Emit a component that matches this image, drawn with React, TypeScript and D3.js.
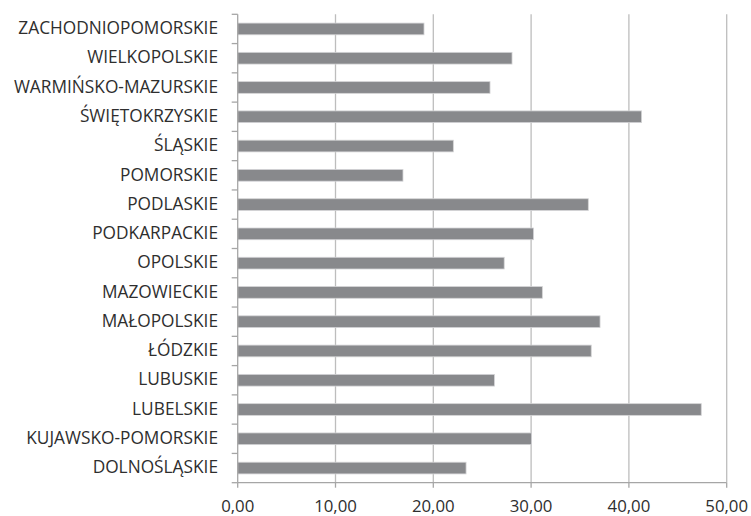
import React from "react";
import * as d3 from "d3";

const categories = [
  "ZACHODNIOPOMORSKIE",
  "WIELKOPOLSKIE",
  "WARMIŃSKO-MAZURSKIE",
  "ŚWIĘTOKRZYSKIE",
  "ŚLĄSKIE",
  "POMORSKIE",
  "PODLASKIE",
  "PODKARPACKIE",
  "OPOLSKIE",
  "MAZOWIECKIE",
  "MAŁOPOLSKIE",
  "ŁÓDZKIE",
  "LUBUSKIE",
  "LUBELSKIE",
  "KUJAWSKO-POMORSKIE",
  "DOLNOŚLĄSKIE",
];

const values = [
  19.05, 28.05, 25.8, 41.3, 22.05, 16.9, 35.85, 30.25, 27.25, 31.15, 37.05, 36.15,
  26.25, 47.4, 30.05, 23.35,
];

const xTicks = [0, 10, 20, 30, 40, 50];

const W = 751;
const H = 516;
const left = 237.7;
const right = 726.7;
const top = 14.3;
const bottom = 482.7;

export default function App() {
  const x = d3.scaleLinear().domain([0, 50]).range([left, right]);
  const y = d3
    .scaleBand<string>()
    .domain(categories)
    .range([top, bottom])
    .paddingInner(0.6)
    .paddingOuter(0.3);
  const band = (bottom - top) / categories.length;
  const fmt = (v: number) => v.toFixed(2).replace(".", ",");
  const font = "'Open Sans', sans-serif";
  const axisColor = "#a6a6a6";
  const gridColor = "#bdbdbd";
  const textColor = "#2e2e2e";

  return (
    <svg
      width={W}
      height={H}
      style={{ position: "absolute", left: 0, top: 0, background: "#fff" }}
    >
      {xTicks.slice(1).map((t) => (
        <line
          key={"g" + t}
          x1={x(t)}
          x2={x(t)}
          y1={top}
          y2={bottom}
          stroke={gridColor}
          strokeWidth={1.3}
        />
      ))}
      {categories.map((c, i) => (
        <rect
          key={c}
          x={x(0)}
          y={y(c)}
          width={x(values[i]) - x(0)}
          height={y.bandwidth()}
          fill="#88898c"
          stroke="#d4d4d6"
          strokeWidth={0.8}
        />
      ))}
      <line x1={left} x2={left} y1={top} y2={bottom} stroke={axisColor} strokeWidth={1.3} />
      <line x1={left} x2={right} y1={bottom} y2={bottom} stroke={axisColor} strokeWidth={1.3} />
      {d3.range(categories.length + 1).map((i) => (
        <line
          key={"yt" + i}
          x1={left - 6}
          x2={left}
          y1={top + i * band}
          y2={top + i * band}
          stroke={axisColor}
          strokeWidth={1.3}
        />
      ))}
      {xTicks.map((t) => (
        <line
          key={"xt" + t}
          x1={x(t)}
          x2={x(t)}
          y1={bottom}
          y2={bottom + 5}
          stroke={axisColor}
          strokeWidth={1.3}
        />
      ))}
      {categories.map((c) => (
        <text
          key={"l" + c}
          x={218}
          y={(y(c) as number) + y.bandwidth() / 2}
          dy="0.3em"
          textAnchor="end"
          fontFamily={font}
          fontSize={17.3}
          fill={textColor}
        >
          {c}
        </text>
      ))}
      {xTicks.map((t) => (
        <text
          key={"xl" + t}
          x={x(t)}
          y={511.5}
          textAnchor="middle"
          fontFamily={font}
          fontSize={16.8}
          fill={textColor}
        >
          {fmt(t)}
        </text>
      ))}
    </svg>
  );
}
